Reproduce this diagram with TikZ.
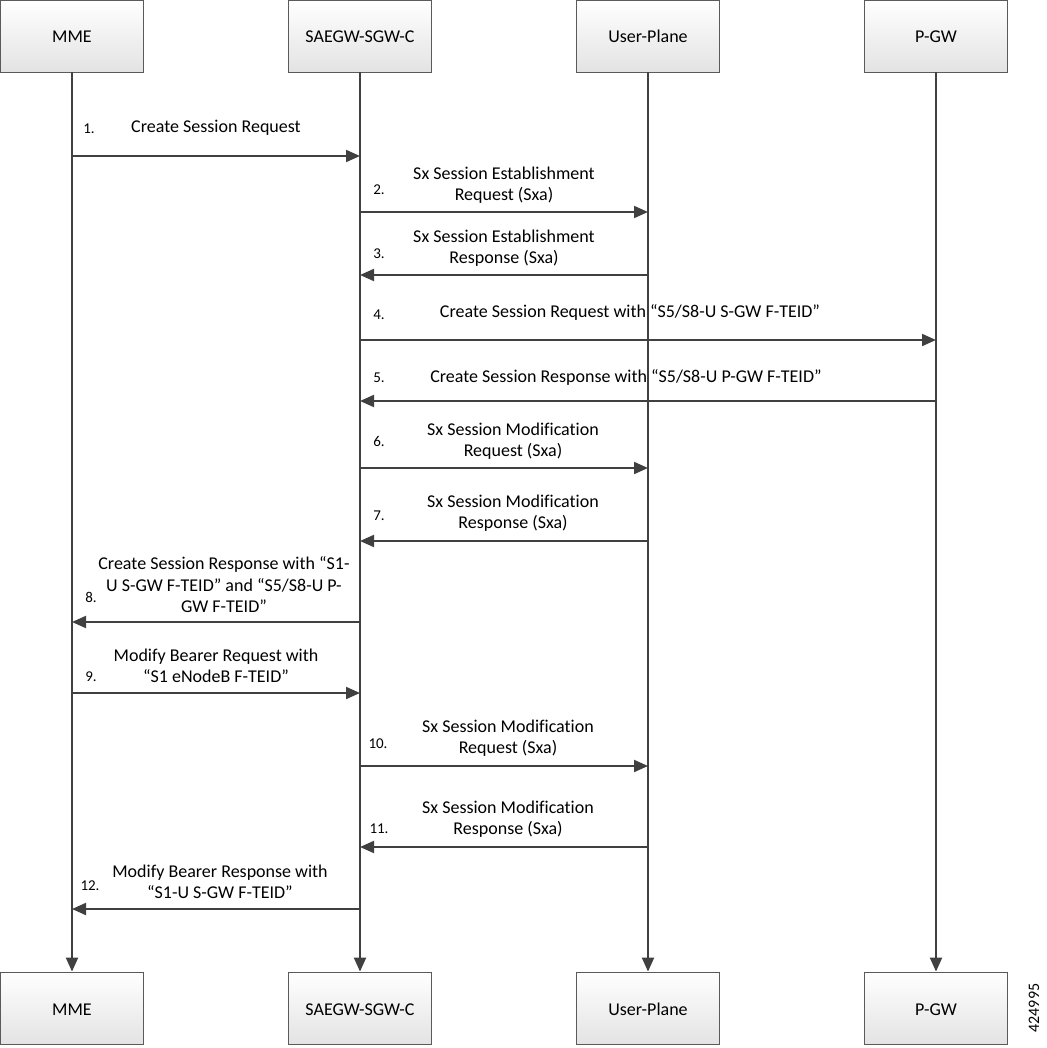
\documentclass[tikz,border=0pt]{standalone}
\usepackage{fontspec}
\setmainfont{Carlito}[Ligatures={NoCommon}]
\usetikzlibrary{arrows.meta}
\definecolor{ln}{HTML}{404040}
\definecolor{bx}{HTML}{5A5A5A}
\begin{document}
\begin{tikzpicture}[x=1pt,y=-1pt,
  ent/.style={draw=bx,line width=0.8pt,minimum width=143pt,minimum height=72pt,
    top color=white,bottom color=black!11,font=\fontsize{18}{21}\selectfont,inner sep=0pt,
    text height=14pt,text depth=0pt},
  life/.style={draw=ln,line width=2pt,-{Triangle[length=14pt,width=12pt]}},
  msg/.style={draw=ln,line width=2pt,-{Triangle[length=14pt,width=12pt]}},
  lbl/.style={align=center,font=\fontsize{18}{21.5}\selectfont,inner sep=0pt},
  num/.style={font=\fontsize{15}{17}\selectfont,inner sep=0pt}]
\useasboundingbox (0,0) rectangle (1046,1048);
% entities
\node[ent] (mme) at (72,36) {MME};
\node[ent] (sgw) at (360,36) {SAEGW-SGW-C};
\node[ent] (up)  at (648,36) {User-Plane};
\node[ent] (pgw) at (936,36) {P-GW};
\node[ent] (mmeB) at (72,1008) {MME};
\node[ent] (sgwB) at (360,1008) {SAEGW-SGW-C};
\node[ent] (upB)  at (648,1008) {User-Plane};
\node[ent] (pgwB) at (936,1008) {P-GW};
% lifelines
\draw[life] (mme) -- (mmeB);
\draw[life] (sgw) -- (sgwB);
\draw[life] (up) -- (upB);
\draw[life] (pgw) -- (pgwB);
% 1
\draw[msg] (mme.south |- 0,156) -- (sgw.south |- 0,156);
\node[lbl] (l1) at (216,128) {Create Session Request};
\node[num] (n1) at (89,129) {1.};
% 2
\draw[msg] (sgw.south |- 0,212) -- (up.south |- 0,212);
\node[lbl] (l2) at (504,185) {Sx Session Establishment\\Request (Sxa)};
\node[num] (n2) at (379,190) {2.};
% 3
\draw[msg] (up.south |- 0,275) -- (sgw.south |- 0,275);
\node[lbl] (l3) at (504,248) {Sx Session Establishment\\Response (Sxa)};
\node[num] (n3) at (379,254) {3.};
% 4
\draw[msg] (sgw.south |- 0,340) -- (pgw.south |- 0,340);
\node[lbl] (l4) at (630,312) {Create Session Request with “S5/S8-U S-GW F-TEID”};
\node[num] (n4) at (379,315) {4.};
% 5
\draw[msg] (pgw.south |- 0,401) -- (sgw.south |- 0,401);
\node[lbl] (l5) at (626,377) {Create Session Response with “S5/S8-U P-GW F-TEID”};
\node[num] (n5) at (379,378) {5.};
% 6
\draw[msg] (sgw.south |- 0,468) -- (up.south |- 0,468);
\node[lbl] (l6) at (513,441) {Sx Session Modification\\Request (Sxa)};
\node[num] (n6) at (379,441) {6.};
% 7
\draw[msg] (up.south |- 0,541) -- (sgw.south |- 0,541);
\node[lbl] (l7) at (513,513) {Sx Session Modification\\Response (Sxa)};
\node[num] (n7) at (379,516) {7.};
% 8
\draw[msg] (sgw.south |- 0,622) -- (mme.south |- 0,622);
\node[lbl] (l8) at (224,585) {Create Session Response with “S1-\\U S-GW F-TEID” and “S5/S8-U P-\\GW F-TEID”};
\node[num] (n8) at (91,597) {8.};
% 9
\draw[msg] (mme.south |- 0,693) -- (sgw.south |- 0,693);
\node[lbl] (l9) at (216,666) {Modify Bearer Request with\\“S1 eNodeB F-TEID”};
\node[num] (n9) at (91,677) {9.};
% 10
\draw[msg] (sgw.south |- 0,766) -- (up.south |- 0,766);
\node[lbl] (l10) at (508,738) {Sx Session Modification\\Request (Sxa)};
\node[num] (n10) at (378,744) {10.};
% 11
\draw[msg] (up.south |- 0,847) -- (sgw.south |- 0,847);
\node[lbl] (l11) at (508,819) {Sx Session Modification\\Response (Sxa)};
\node[num] (n11) at (379,829) {11.};
% 12
\draw[msg] (sgw.south |- 0,909) -- (mme.south |- 0,909);
\node[lbl] (l12) at (220,882) {Modify Bearer Response with\\“S1-U S-GW F-TEID”};
\node[num] (n12) at (90,886) {12.};
% figure id
\node[font=\fontsize{16}{18}\selectfont,inner sep=0pt,rotate=90] (fid) at (1034,1008) {424995};
\end{tikzpicture}
\end{document}
